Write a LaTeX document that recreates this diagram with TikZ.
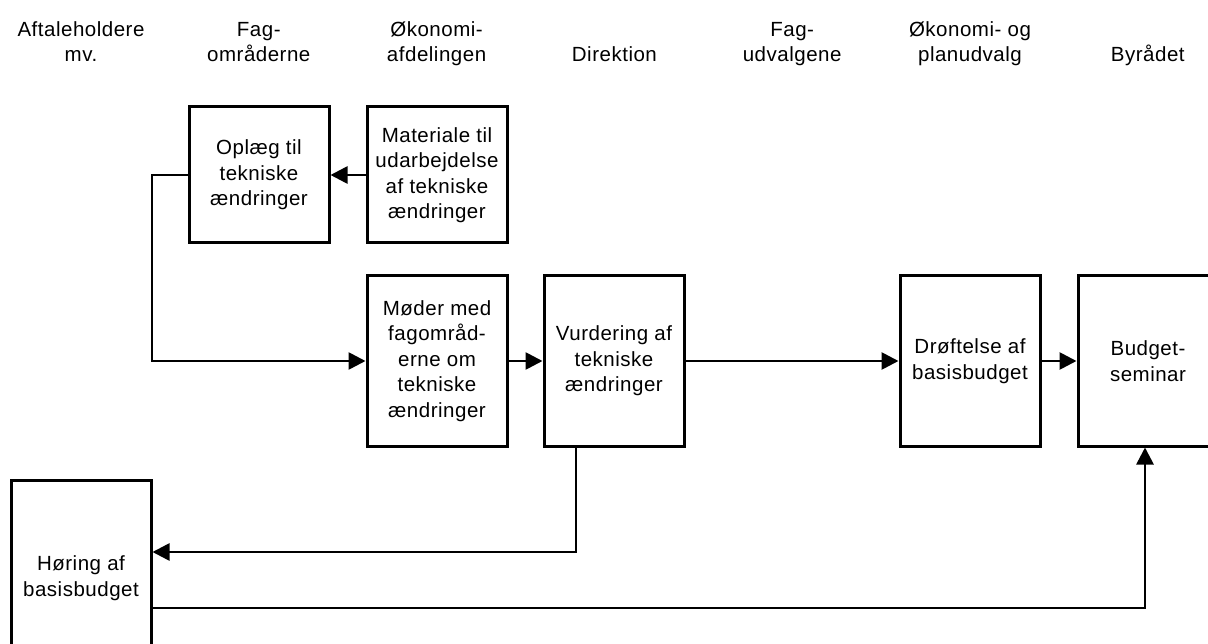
\documentclass[tikz,border=0pt]{standalone}
\usepackage{fontspec}
\setmainfont{Liberation Sans}[LetterSpace=2.5]
\usetikzlibrary{arrows.meta}

\tikzset{
	box/.style={draw,line width=3pt,minimum width=140pt,minimum height=170pt,align=center,inner sep=0pt},
	hdr/.style={anchor=base,align=center,inner sep=0pt},
	link/.style={line width=2.7pt,-{Triangle[length=17pt,width=17pt]}}
}

\begin{document}
\begin{tikzpicture}[x=1pt,y=-1pt,font=\fontsize{20.5}{25.5}\selectfont]
			\useasboundingbox (0,0) rectangle (1208,644);
			\clip (0,0) rectangle (1208,644);

			\foreach \t [count=\i] in {{Aftaleholdere\\mv.},{Fag-\\områderne},{Økonomi-\\afdelingen},{Direktion},{Fag-\\udvalgene},{Økonomi- og\\planudvalg},{Byrådet}} {
				\node[hdr] (h\i) at (81 + 177.8 * \i - 177.8, 62) {\t};
			}

			\node[box,minimum height=136pt] (opl) at (259,175) {Oplæg til\\tekniske\\ændringer};
			\node[box,minimum height=136pt] (mat) at (437,175) {Materiale til\\udarbejdelse\\af tekniske\\ændringer};
			\node[box] (mod) at (437,361) {Møder med\\fagområd-\\erne om\\tekniske\\ændringer};
			\node[box] (vur) at (614,361) {Vurdering af\\tekniske\\ændringer};
			\node[box] (dro) at (970,361) {Drøftelse af\\basisbudget};
			\node[box] (bud) at (1148,361) {Budget-\\seminar};
			\node[box,minimum height=196pt] (hor) at (81,578) {Høring af\\basisbudget};

			\coordinate (bend) at (152,175);

			\draw[link] (mat) -- (opl);
			\draw[link] (opl.west) -- (bend) |- (mod.west);
			\draw[link] (mod) -- (vur);
			\draw[link] (vur) -- (dro);
			\draw[link] (dro) -- (bud);
			\draw[link] ([xshift=-38pt]vur.south) |- ([yshift=26pt]hor.east);
			\draw[link] ([yshift=-30pt]hor.east) -| ([xshift=-3pt]bud.south);
		\end{tikzpicture}
\end{document}
